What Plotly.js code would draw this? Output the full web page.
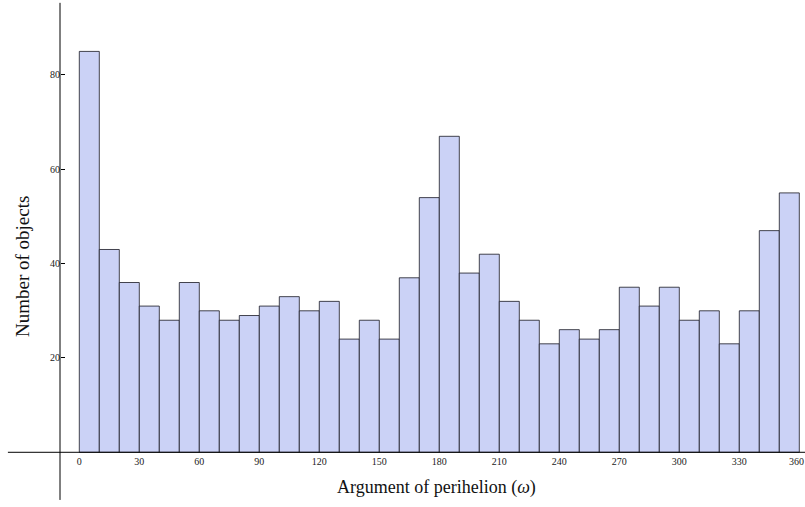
<!DOCTYPE html>
<html>
<head>
<meta charset="utf-8">
<script src="https://cdn.plot.ly/plotly-3.0.1.min.js"></script>
<style>html,body{margin:0;padding:0;background:#fff;}#chart{width:805px;height:507px;}</style>
</head>
<body>
<div id="chart"></div>
<script>
// Bin lower edges (degrees), bin width 10
const binLower = [0,10,20,30,40,50,60,70,80,90,100,110,120,130,140,150,160,170,
                  180,190,200,210,220,230,240,250,260,270,280,290,300,310,320,330,340,350];
const binWidth = 10;
// Number of objects per bin
const counts = [85,43,36,31,28,36,30,28,29,31,33,30,32,24,28,24,37,54,
                67,38,42,32,28,23,26,24,26,35,31,35,28,30,23,30,47,55];
// Tick labels (the last one, at the right edge, is placed as an annotation so it is not cut)
const xTicks = [0,30,60,90,120,150,180,210,240,270,300,330];
const xTickLast = 360;
const yTicks = [20,40,60,80];

const trace = {
  type: 'bar',
  x: binLower,
  y: counts,
  width: binLower.map(() => binWidth),
  offset: 0,
  marker: {color: 'rgb(203,210,246)', line: {color: 'rgba(25,25,35,0.8)', width: 1}},
  hoverinfo: 'x+y'
};

const serif = 'Liberation Serif, Times New Roman, serif';
const layout = {
  width: 805, height: 507,
  margin: {l: 0, r: 0, t: 0, b: 0},
  paper_bgcolor: '#fff', plot_bgcolor: '#fff',
  showlegend: false,
  bargap: 0,
  xaxis: {
    range: [-39.65, 362.85], anchor: 'free', position: 0.108,
    showgrid: false, zeroline: false, showline: false,
    tickmode: 'array', tickvals: xTicks, ticktext: xTicks.map(String),
    ticks: '', ticklabelstandoff: 2,
    tickfont: {family: serif, size: 10, color: '#222'},
    automargin: false
  },
  yaxis: {
    range: [-11.6, 95.9], anchor: 'free', position: 0.0745,
    showgrid: false, zeroline: false, showline: false,
    tickmode: 'array', tickvals: yTicks, ticktext: yTicks.map(String),
    ticks: 'inside', ticklen: 4, tickwidth: 1, tickcolor: '#000',
    tickfont: {family: serif, size: 10, color: '#222'},
    automargin: false
  },
  shapes: [
    {type: 'line', xref: 'x', yref: 'y', x0: -35.7, x1: 362.85, y0: 0, y1: 0,
     line: {color: '#000', width: 1}, layer: 'above'},
    {type: 'line', xref: 'x', yref: 'y', x0: -9.65, x1: -9.65, y0: -10.1, y1: 95.3,
     line: {color: '#000', width: 1}, layer: 'above'}
  ],
  annotations: [
    {text: String(xTickLast), xref: 'x', yref: 'paper', x: xTickLast, xshift: -3,
     y: 1 - 461/507, xanchor: 'center', yanchor: 'middle', showarrow: false, borderpad: 0,
     font: {family: serif, size: 10, color: '#222'}},
    {text: 'Argument of perihelion (<i>ω</i>)', xref: 'paper', yref: 'paper',
     x: 437/805, y: 1 - 487/507, xanchor: 'center', yanchor: 'middle', showarrow: false,
     font: {family: serif, size: 18, color: '#111'}},
    {text: 'Number of objects', xref: 'paper', yref: 'paper', textangle: -90,
     x: 22/805, y: 1 - 267/507, xanchor: 'center', yanchor: 'middle', showarrow: false,
     font: {family: serif, size: 19, color: '#111'}}
  ]
};

Plotly.newPlot('chart', [trace], layout, {displayModeBar: false, staticPlot: true});
</script>
</body>
</html>
